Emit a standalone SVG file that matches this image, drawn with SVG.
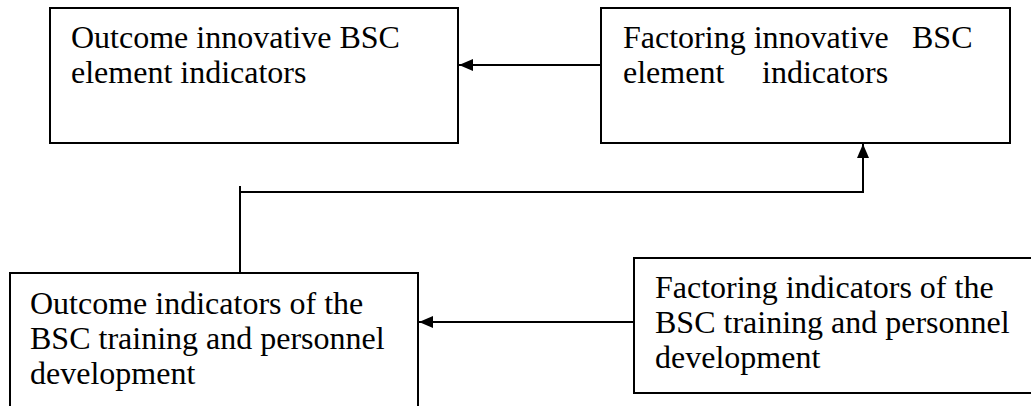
<svg xmlns="http://www.w3.org/2000/svg" width="1031" height="406" viewBox="0 0 1031 406">
<style>
.box{fill:#fff;stroke:#000;stroke-width:2}
.t{font-family:"Liberation Serif","Times New Roman",serif;font-size:32px;fill:#000}
.c{fill:none;stroke:#000;stroke-width:2}
</style>
<defs>
<marker id="ah" markerUnits="userSpaceOnUse" markerWidth="14" markerHeight="12" viewBox="0 0 14 12" refX="14" refY="6" orient="auto">
<path d="M0,0 L14,6 L0,12 Z" fill="#000"/>
</marker>
</defs>
<rect width="1031" height="406" fill="#fff"/>
<g id="n1">
<rect class="box" x="50" y="8" width="408" height="135"/>
<text class="t" x="71" y="48">Outcome innovative BSC</text>
<text class="t" x="71" y="83">element indicators</text>
</g>
<g id="n2">
<rect class="box" x="601" y="8" width="409" height="135"/>
<text class="t" y="48"><tspan x="623">Factoring innovative</tspan><tspan x="912">BSC</tspan></text>
<text class="t" y="83"><tspan x="623">element</tspan><tspan x="762">indicators</tspan></text>
</g>
<g id="n3">
<rect class="box" x="10" y="273" width="408" height="150"/>
<text class="t" x="30" y="314">Outcome indicators of the</text>
<text class="t" x="30" y="349">BSC training and personnel</text>
<text class="t" x="30" y="384">development</text>
</g>
<g id="n4">
<rect class="box" x="634" y="258" width="410" height="135"/>
<text class="t" x="655" y="298">Factoring indicators of the</text>
<text class="t" x="655" y="333">BSC training and personnel</text>
<text class="t" x="655" y="368">development</text>
</g>
<g id="connectors">
<line class="c" x1="601" y1="65" x2="459" y2="65" marker-end="url(#ah)"/>
<line class="c" x1="240" y1="186" x2="240" y2="273"/>
<polyline class="c" points="240,192 863,192 863,144" marker-end="url(#ah)"/>
<line class="c" x1="634" y1="322" x2="419" y2="322" marker-end="url(#ah)"/>
</g>
</svg>
